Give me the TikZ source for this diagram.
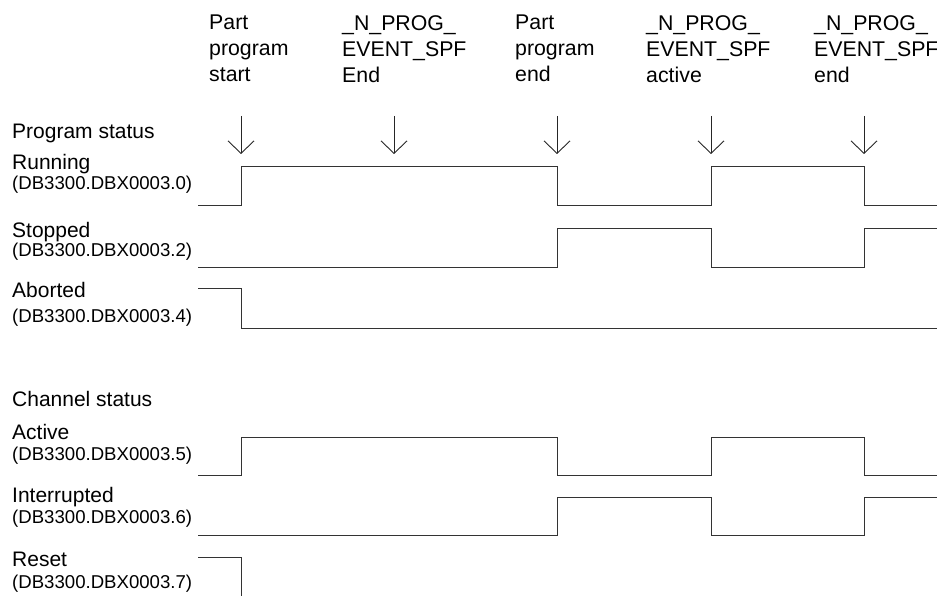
\documentclass[tikz,border=0pt]{standalone}
\usepackage{fontspec}
\setmainfont{Liberation Sans}
\usetikzlibrary{arrows.meta}

\begin{document}
\begin{tikzpicture}[
    x=1pt,
    y=-1pt,
    >={Straight Barb[length=12.5pt, width=26pt]},
    every node/.style={
        inner sep=0pt,
        align=left
    },
    event/.style={anchor=north west, font=\fontsize{21.3}{26}\selectfont},
    status/.style={anchor=base west, font=\fontsize{21}{25}\selectfont},
    address/.style={anchor=base west, font=\fontsize{18.6}{22}\selectfont},
    signal/.style={line width=1pt, draw=black!80},
    marker/.style={->, line width=0.9pt, draw=black!85}
]

\useasboundingbox (0,0) rectangle (937,596);
\clip (0,0) rectangle (937,596);

% Events
\node[event] (evStart)   at (209,15) {Part\\program\\start};
\node[event] (evSpfEnd)  at (342,15) {\_N\_PROG\_\\EVENT\_SPF\\End};
\node[event] (evPrgEnd)  at (515,15) {Part\\program\\end};
\node[event] (evSpfAct)  at (646,15) {\_N\_PROG\_\\EVENT\_SPF\\active};
\node[event] (evSpfEnd2) at (814,15) {\_N\_PROG\_\\EVENT\_SPF\\end};

% Event markers
\foreach \name/\x in {mStart/241, mSpfEnd/394, mPrgEnd/557, mSpfAct/711, mSpfEnd2/864} {
    \coordinate (\name top) at (\x,116);
    \coordinate (\name tip) at (\x,154);
    \draw[marker] (\name top) -- (\name tip);
}

% Program status
\node[status]  (prgStatus)   at (12,139) {Program status};
\node[status]  (running)     at (12,170) {Running};
\node[address] (runningAddr) at (12,190) {(DB3300.DBX0003.0)};
\node[status]  (stopped)     at (12,237) {Stopped};
\node[address] (stoppedAddr) at (12,257) {(DB3300.DBX0003.2)};
\node[status]  (aborted)     at (12,297) {Aborted};
\node[address] (abortedAddr) at (12,322) {(DB3300.DBX0003.4)};

% Channel status
\node[status]  (chnStatus)   at (12,406) {Channel status};
\node[status]  (active)      at (12,439) {Active};
\node[address] (activeAddr)  at (12,460) {(DB3300.DBX0003.5)};
\node[status]  (interr)      at (12,502) {Interrupted};
\node[address] (interrAddr)  at (12,523) {(DB3300.DBX0003.6)};
\node[status]  (reset)       at (12,566) {Reset};
\node[address] (resetAddr)   at (12,588) {(DB3300.DBX0003.7)};

% Signals
\draw[signal] (198,206) -| (241,167) -| (557,206) -| (711,167) -| (864,206) -- (937,206);
\draw[signal] (198,267) -| (557,229) -| (711,267) -| (864,229) -- (937,229);
\draw[signal] (198,288) -| (241,328) -- (937,328);
\draw[signal] (198,475) -| (241,437) -| (557,475) -| (711,437) -| (864,475) -- (937,475);
\draw[signal] (198,535) -| (557,497) -| (711,535) -| (864,497) -- (937,497);
\draw[signal] (198,557) -| (241,596);

\end{tikzpicture}
\end{document}
